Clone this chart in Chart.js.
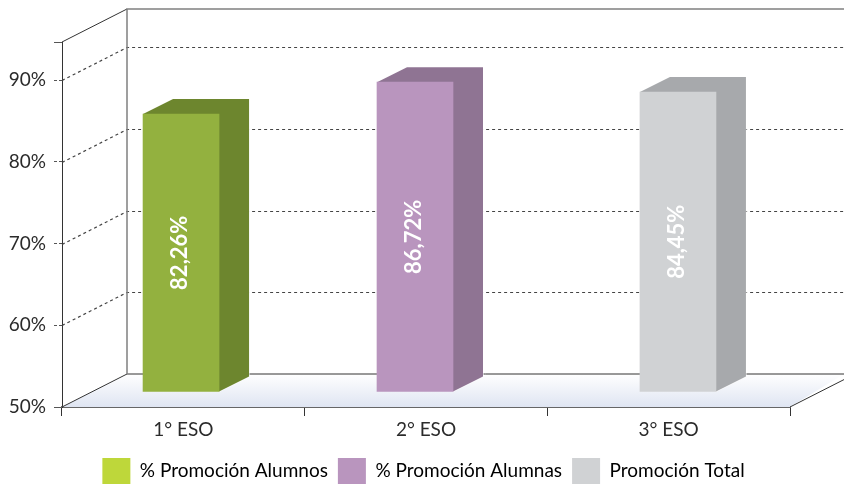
<!DOCTYPE html>
<html>
<head>
<meta charset="utf-8">
<style>
  html, body { margin: 0; padding: 0; background: #fff; }
  canvas { display: block; }
</style>
<script src="https://cdn.jsdelivr.net/npm/chart.js@4"></script>
</head>
<body>
<canvas id="chart" width="844" height="484"></canvas>
<script>
const categories = ['1° ESO', '2° ESO', '3° ESO'];
const seriesNames = ['% Promoción Alumnos', '% Promoción Alumnas', 'Promoción Total'];
// height of each bar as read against the axis
const barValues = [84.0, 87.9, 86.7];
// what is printed on the bars (differs a bit from the drawn height in the original)
const barLabels = ['82,26%', '86,72%', '84,45%'];
const axisTicks = [50, 60, 70, 80, 90];
const axisTop = 94.65;

const frontColors = ['#93b13f', '#b995be', '#d0d2d4'];
const sideColors = ['#6d862e', '#8f7493', '#a7a9ac'];
const legendColors = ['#bed73a', '#b995be', '#d0d2d4'];

// 3d look
const wallDx = 65, wallDy = -33;
const barDx = 30, barDy = -15;
const barShift = [-2.3, -11, 9.3];
const legendShift = 28.5;
const fontName = 'Lato, sans-serif';

// floor, back wall and dotted lines
const wallsPlugin = {
  id: 'walls',
  afterLayout(chart) {
    // legend sits centred under the plot, not under the whole canvas
    chart.legend.left += legendShift;
    chart.legend.right += legendShift;
  },
  beforeDatasetsDraw(chart) {
    const ctx = chart.ctx;
    const y = chart.scales.y;
    const area = chart.chartArea;
    const left = area.left, right = area.right;
    const floor = y.getPixelForValue(50);
    const top = y.getPixelForValue(axisTop);
    const backX = left + wallDx;
    const edge = chart.width;
    ctx.save();

    const grad = ctx.createLinearGradient(0, floor + wallDy, 0, floor);
    grad.addColorStop(0, '#ffffff');
    grad.addColorStop(1, '#dfe5f2');
    ctx.fillStyle = grad;
    ctx.beginPath();
    ctx.moveTo(left, floor);
    ctx.lineTo(backX, floor + wallDy);
    ctx.lineTo(edge, floor + wallDy);
    ctx.lineTo(right, floor);
    ctx.closePath();
    ctx.fill();

    ctx.lineWidth = 1.2;
    ctx.setLineDash([3, 3]);
    ctx.strokeStyle = '#444';
    axisTicks.slice(1).forEach(t => {
      const p = Math.round(y.getPixelForValue(t)) + 0.5;
      ctx.beginPath();
      ctx.moveTo(left, p);
      ctx.lineTo(backX, p + wallDy);
      ctx.lineTo(edge, p + wallDy);
      ctx.stroke();
    });
    ctx.setLineDash([]);

    // diagonals
    ctx.lineWidth = 1;
    ctx.strokeStyle = '#333';
    ctx.beginPath();
    ctx.moveTo(left, top);
    ctx.lineTo(backX, top + wallDy);
    ctx.moveTo(left, floor);
    ctx.lineTo(backX, floor + wallDy);
    ctx.lineTo(edge, floor + wallDy);
    ctx.moveTo(right, floor);
    ctx.lineTo(edge, floor + wallDy * (edge - right) / wallDx);
    ctx.stroke();

    // back wall outline
    ctx.strokeStyle = '#808080';
    ctx.lineWidth = 1.5;
    ctx.beginPath();
    ctx.moveTo(backX, floor + wallDy);
    ctx.lineTo(backX, top + wallDy);
    ctx.lineTo(edge, top + wallDy);
    ctx.stroke();
    ctx.restore();
  }
};

// moves each bar back into the room, adds side + top faces and the rotated label
const boxPlugin = {
  id: 'box',
  beforeDatasetDraw(chart, args) {
    const i = args.index;
    const bar = args.meta.data[i];
    const ctx = chart.ctx;
    const l = bar.x - bar.width / 2, r = bar.x + bar.width / 2;
    ctx.save();
    ctx.translate(barShift[i], barDy);
    ctx.fillStyle = sideColors[i];
    ctx.strokeStyle = '#fff';
    ctx.lineWidth = 1;
    ctx.beginPath();
    ctx.moveTo(l, bar.y);
    ctx.lineTo(l + barDx, bar.y + barDy);
    ctx.lineTo(r + barDx, bar.y + barDy);
    ctx.lineTo(r + barDx, bar.base + barDy);
    ctx.lineTo(r, bar.base);
    ctx.closePath();
    ctx.stroke();
    ctx.fill();
  },
  afterDatasetDraw(chart, args) {
    const i = args.index;
    const bar = args.meta.data[i];
    const ctx = chart.ctx;
    ctx.translate(bar.x - 1, (bar.y + bar.base) / 2);
    ctx.rotate(-Math.PI / 2);
    ctx.fillStyle = '#fff';
    ctx.font = 'bold 22px ' + fontName;
    ctx.textAlign = 'center';
    ctx.textBaseline = 'middle';
    ctx.fillText(barLabels[i], 0, 0);
    ctx.restore();
  }
};

new Chart(document.getElementById('chart'), {
  type: 'bar',
  data: {
    labels: categories,
    datasets: seriesNames.map((name, i) => ({
      label: name,
      data: categories.map((c, j) => j === i ? barValues[i] : null),
      base: 50,
      backgroundColor: frontColors[i],
      barThickness: 76,
      grouped: false,
      clip: false
    }))
  },
  plugins: [wallsPlugin, boxPlugin],
  options: {
    responsive: false,
    animation: false,
    layout: { padding: { top: 42, right: 54, left: 0, bottom: -10 } },
    plugins: {
      tooltip: { enabled: false },
      legend: {
        position: 'bottom',
        labels: {
          boxWidth: 28,
          boxHeight: 26,
          padding: 10,
          color: '#2b2b2b',
          font: { family: fontName, size: 19 },
          generateLabels: chart => seriesNames.map((name, i) => ({
            text: name,
            fillStyle: legendColors[i],
            strokeStyle: legendColors[i],
            lineWidth: 0,
            datasetIndex: i
          }))
        }
      }
    },
    scales: {
      x: {
        afterFit: s => { s.height = 41; },
        border: { color: '#666', width: 2 },
        grid: { offset: true, drawOnChartArea: false, tickLength: 9, tickColor: '#333' },
        ticks: { color: '#2b2b2b', padding: 2, font: { family: fontName, size: 19 }, maxRotation: 0 }
      },
      y: {
        min: 50,
        max: axisTop,
        afterFit: s => { s.width = 62; },
        afterBuildTicks: s => { s.ticks = axisTicks.concat(axisTop).map(v => ({ value: v })); },
        border: { color: '#333', width: 1 },
        grid: {
          drawOnChartArea: false,
          tickLength: 8,
          tickColor: '#555',
          tickBorderDash: c => (c.tick && c.tick.value > 50 && c.tick.value < axisTop) ? [3, 2] : []
        },
        ticks: {
          color: '#2b2b2b',
          padding: 8,
          font: { family: fontName, size: 19 },
          callback: v => axisTicks.includes(v) ? v + '%' : ''
        }
      }
    }
  }
});
</script>
</body>
</html>
